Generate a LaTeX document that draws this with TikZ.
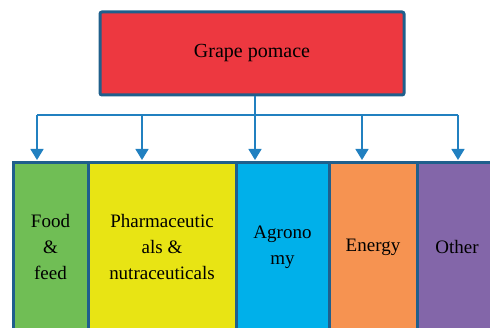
\documentclass[tikz,border=0pt]{standalone}
\usepackage{fontspec}
\setmainfont{Liberation Serif}
\usetikzlibrary{arrows.meta}

\definecolor{pomacered}{RGB}{237,56,64}
\definecolor{foodgreen}{RGB}{112,190,85}
\definecolor{pharmayellow}{RGB}{232,228,20}
\definecolor{agrocyan}{RGB}{0,176,234}
\definecolor{energyorange}{RGB}{246,147,81}
\definecolor{otherpurple}{RGB}{131,102,169}
\definecolor{boxline}{RGB}{31,95,140}
\definecolor{arrowblue}{RGB}{33,128,192}

\begin{document}
\begin{tikzpicture}[>={Triangle[width=13pt,length=11pt]}, x=1pt, y=-1pt]

% ---------- styles ----------
\tikzset{
  frame/.style={draw=boxline, line width=3pt, inner sep=0pt, align=center},
  usebox/.style={frame, minimum width=#1, minimum height=168pt,
    font=\fontsize{19}{26}\selectfont},
  branch/.style={->, draw=arrowblue, line width=1.5pt}
}

\clip (0,0) rectangle (490,328);

% ---------- source ----------
\node[frame, fill=pomacered, rounded corners=2pt, minimum width=304pt,
  minimum height=83pt, font=\fontsize{20}{24}\selectfont]
  (pomace) at (252,53.5) {Grape pomace};

% ---------- uses ----------
\node[usebox=75pt, fill=foodgreen] (food) at (50.5,247) {Food\\\&\\feed};
\node[usebox=148pt, fill=pharmayellow] (pharma) at (162,247)
  {Pharmaceutic\\als \&\\nutraceuticals};
\node[usebox=93pt, fill=agrocyan] (agro) at (282.5,247) {Agrono\\my};
\node[usebox=88pt, fill=energyorange] (energy) at (373,247) {Energy};
\node[usebox=80pt, fill=otherpurple] (other) at (457,247) {Other};

% ---------- connectors ----------
\foreach \x/\n in {37/food,142/pharma,255/agro,362/energy,458/other}
  \coordinate (drop-\n) at (\x,115);

\draw[draw=arrowblue, line width=1.5pt] (pomace.south -| drop-agro) -- (drop-agro);
\draw[draw=arrowblue, line width=1.5pt] (drop-food) -- (drop-other);

\foreach \n in {food,pharma,agro,energy,other}
  \draw[branch, shorten >=1.5pt] (drop-\n) -- (drop-\n |- \n.north);

\end{tikzpicture}
\end{document}
